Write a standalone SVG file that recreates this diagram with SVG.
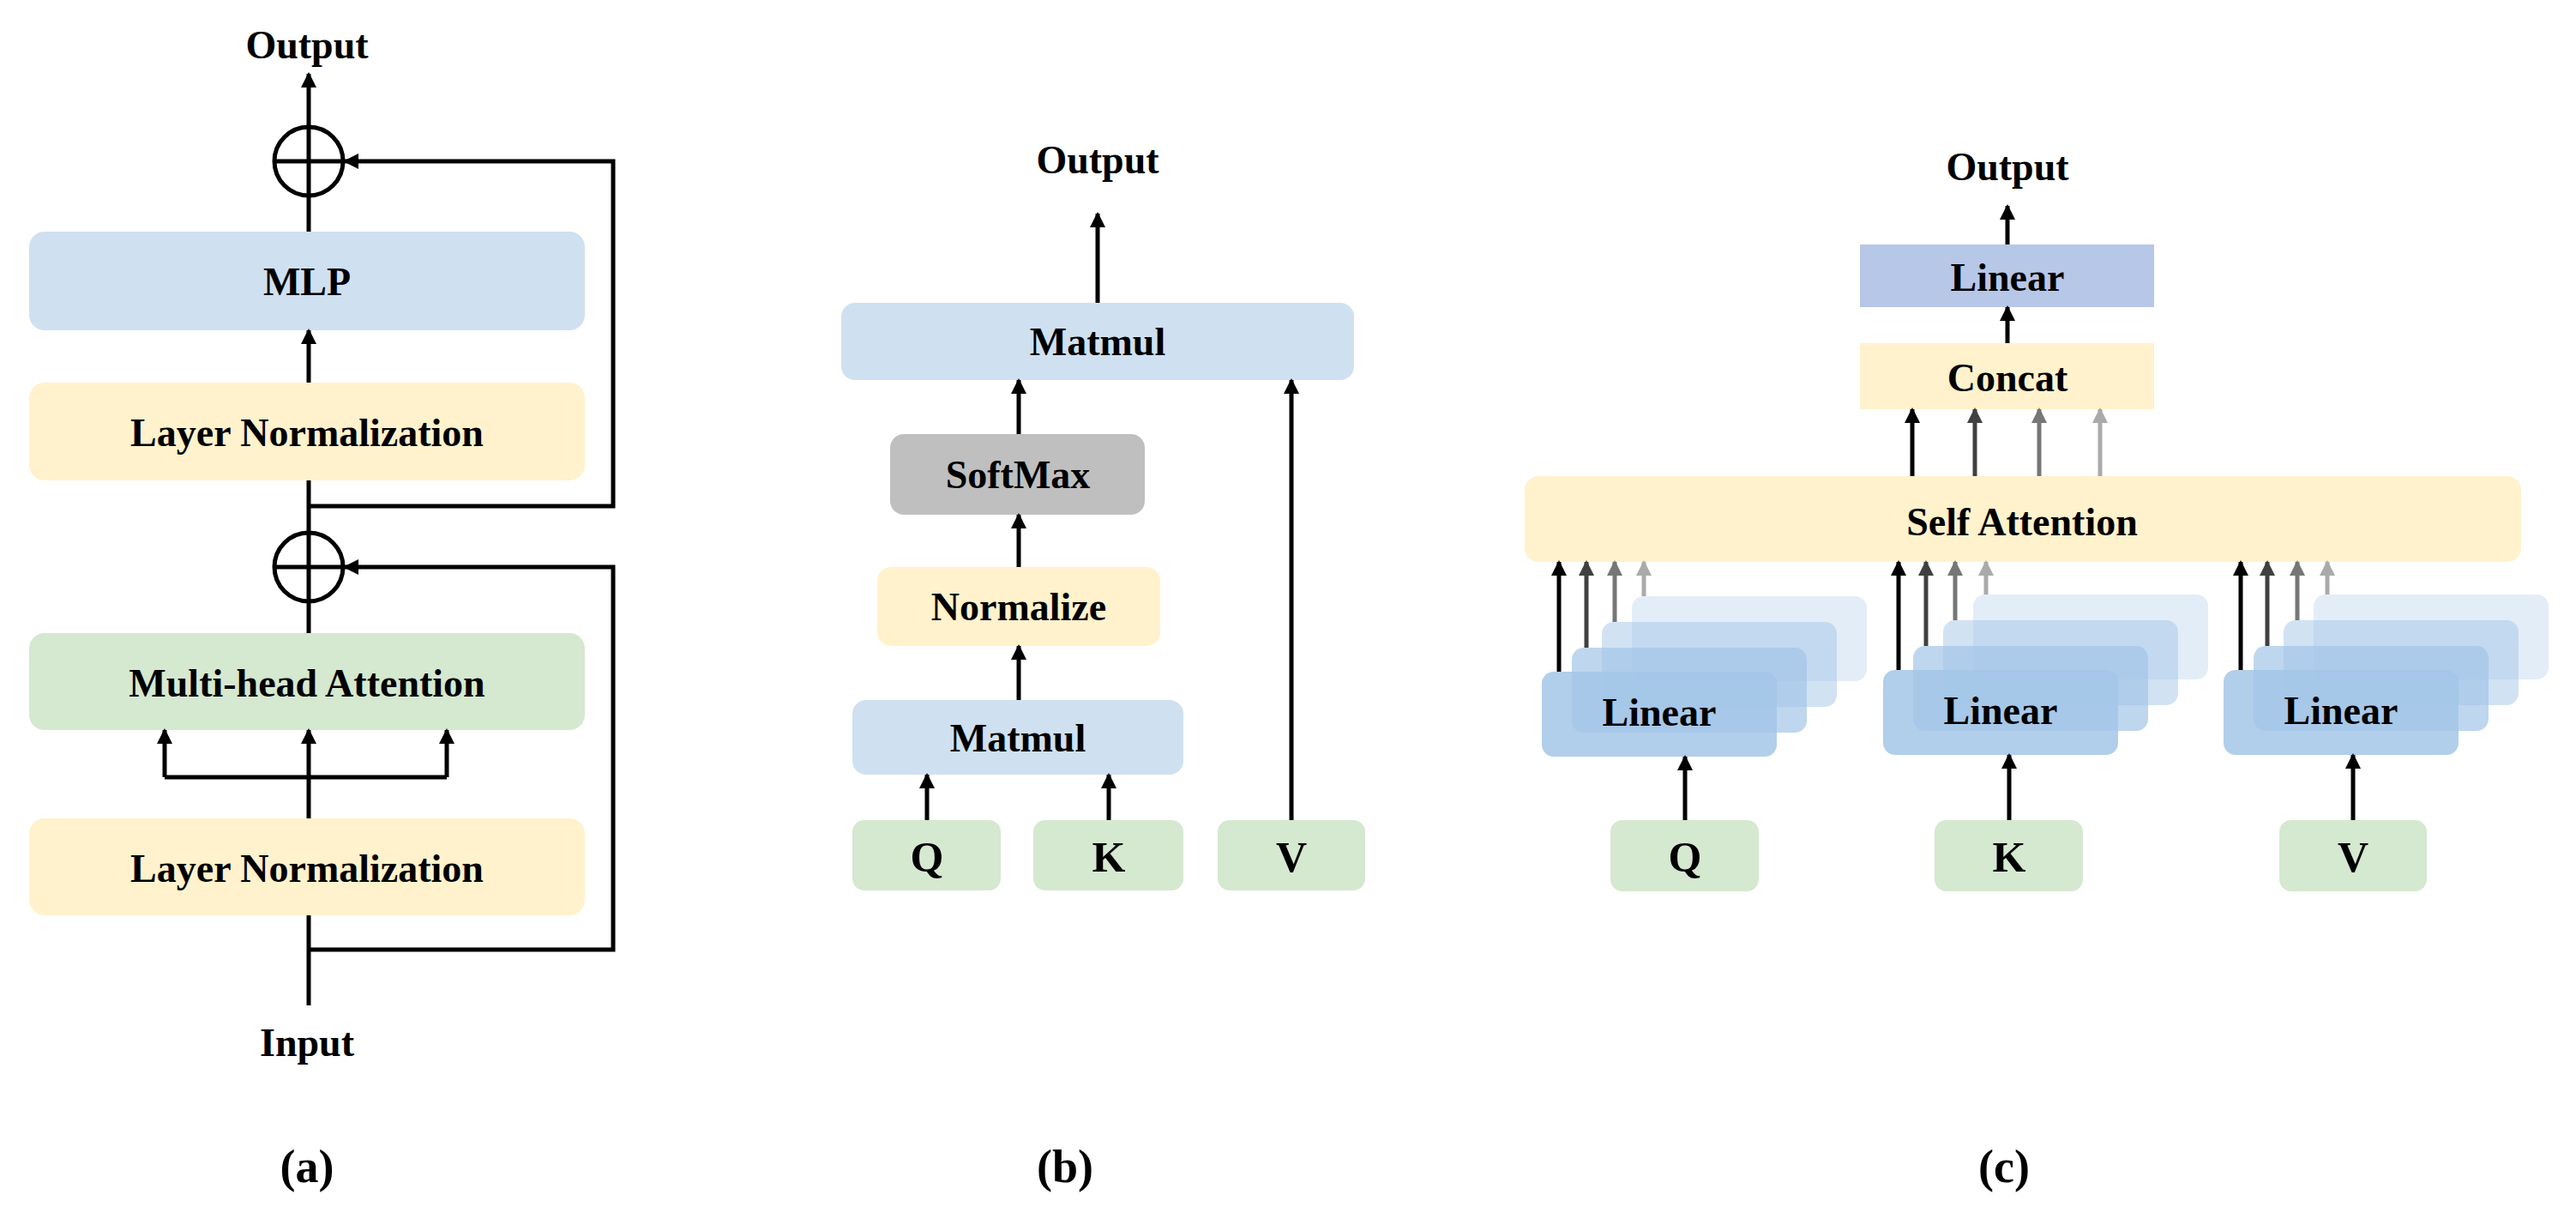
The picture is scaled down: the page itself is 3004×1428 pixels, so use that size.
<svg xmlns="http://www.w3.org/2000/svg" width="3004" height="1428" viewBox="0 0 3004 1428">
<defs>
<style>
text{font-family:"Liberation Serif","Times New Roman",serif;font-weight:bold;fill:#000;text-anchor:middle;dominant-baseline:central}
.t{font-size:46px}
.blue{fill:#cfe0f1}.yel{fill:#fff2cc}.grn{fill:#d5e8d0}.gry{fill:#bfbfbf}.lav{fill:#b7c7e8}
.ln{fill:none;stroke:#000;stroke-width:5}
.c0{stroke:#000}.c1{stroke:#404040}.c2{stroke:#767676}.c3{stroke:#aaaaaa}
.lin{fill:#a3c5e7}
</style>
<marker id="a0" markerWidth="18" markerHeight="20" refX="16" refY="9" orient="auto" markerUnits="userSpaceOnUse"><path d="M0,0 L18,9 L0,18 Z" fill="#000"/></marker>
<marker id="a1" markerWidth="18" markerHeight="20" refX="16" refY="9" orient="auto" markerUnits="userSpaceOnUse"><path d="M0,0 L18,9 L0,18 Z" fill="#404040"/></marker>
<marker id="a2" markerWidth="18" markerHeight="20" refX="16" refY="9" orient="auto" markerUnits="userSpaceOnUse"><path d="M0,0 L18,9 L0,18 Z" fill="#767676"/></marker>
<marker id="a3" markerWidth="18" markerHeight="20" refX="16" refY="9" orient="auto" markerUnits="userSpaceOnUse"><path d="M0,0 L18,9 L0,18 Z" fill="#aaaaaa"/></marker>
</defs>
<rect width="3004" height="1428" fill="#fff"/>

<!-- Panel a -->
<g id="a-output"><text class="t" x="358" y="52">Output</text></g>
<g id="a-add2"><circle cx="360" cy="188" r="40" fill="none" stroke="#000" stroke-width="5"/><line x1="320" y1="188" x2="400" y2="188" stroke="#000" stroke-width="5"/></g>
<g id="a-mlp"><rect class="blue" x="34" y="270" width="648" height="115" rx="18"/><text class="t" x="358" y="328">MLP</text></g>
<g id="a-ln1"><rect class="yel" x="34" y="446" width="648" height="114" rx="18"/><text class="t" x="358" y="504">Layer Normalization</text></g>
<g id="a-add1"><circle cx="360" cy="661" r="40" fill="none" stroke="#000" stroke-width="5"/><line x1="320" y1="661" x2="400" y2="661" stroke="#000" stroke-width="5"/></g>
<g id="a-mha"><rect class="grn" x="34" y="738" width="648" height="113" rx="18"/><text class="t" x="358" y="796">Multi-head Attention</text></g>
<g id="a-ln2"><rect class="yel" x="34" y="954" width="648" height="113" rx="18"/><text class="t" x="358" y="1012">Layer Normalization</text></g>
<g id="a-input"><text class="t" x="358" y="1215">Input</text></g>
<g id="a-label"><text x="358" y="1360" font-size="54">(a)</text></g>

<!-- Panel b -->
<g id="b-output"><text class="t" x="1280" y="186">Output</text></g>
<g id="b-matmul2"><rect class="blue" x="981" y="353" width="598" height="90" rx="16"/><text class="t" x="1280" y="398">Matmul</text></g>
<g id="b-softmax"><rect class="gry" x="1038" y="506" width="297" height="94" rx="16"/><text class="t" x="1187" y="553">SoftMax</text></g>
<g id="b-normalize"><rect class="yel" x="1023" y="661" width="330" height="92" rx="16"/><text class="t" x="1188" y="707">Normalize</text></g>
<g id="b-matmul1"><rect class="blue" x="994" y="816" width="386" height="87" rx="16"/><text class="t" x="1187" y="860">Matmul</text></g>
<g id="b-q"><rect class="grn" x="994" y="956" width="173" height="82" rx="14"/><text x="1081" y="999" font-size="50">Q</text></g>
<g id="b-k"><rect class="grn" x="1205" y="956" width="175" height="82" rx="14"/><text x="1293" y="999" font-size="50">K</text></g>
<g id="b-v"><rect class="grn" x="1420" y="956" width="172" height="82" rx="14"/><text x="1506" y="999" font-size="50">V</text></g>
<g id="b-label"><text x="1242" y="1360" font-size="54">(b)</text></g>

<!-- Panel c -->
<g id="c-output"><text class="t" x="2341" y="194">Output</text></g>
<g id="c-linear"><rect class="lav" x="2169" y="285" width="343" height="73"/><text class="t" x="2341" y="323">Linear</text></g>
<g id="c-concat"><rect class="yel" x="2169" y="400" width="343" height="77"/><text class="t" x="2341" y="440">Concat</text></g>
<g id="c-selfatt"><rect class="yel" x="1778" y="555" width="1162" height="100" rx="16"/><text class="t" x="2358" y="608">Self Attention</text></g>
<g id="c-linQ">
<rect class="lin" opacity="0.3" x="1903" y="695" width="274" height="99" rx="14"/>
<rect class="lin" opacity="0.5" x="1868" y="725" width="274" height="99" rx="14"/>
<rect class="lin" opacity="0.7" x="1833" y="755" width="274" height="99" rx="14"/>
<rect class="lin" opacity="0.85" x="1798" y="783" width="274" height="99" rx="14"/>
<text class="t" x="1935" y="830">Linear</text></g>
<g id="c-linK">
<rect class="lin" opacity="0.3" x="2301" y="693" width="274" height="99" rx="14"/>
<rect class="lin" opacity="0.5" x="2266" y="723" width="274" height="99" rx="14"/>
<rect class="lin" opacity="0.7" x="2231" y="753" width="274" height="99" rx="14"/>
<rect class="lin" opacity="0.85" x="2196" y="781" width="274" height="99" rx="14"/>
<text class="t" x="2333" y="828">Linear</text></g>
<g id="c-linV">
<rect class="lin" opacity="0.3" x="2698" y="693" width="274" height="99" rx="14"/>
<rect class="lin" opacity="0.5" x="2663" y="723" width="274" height="99" rx="14"/>
<rect class="lin" opacity="0.7" x="2628" y="753" width="274" height="99" rx="14"/>
<rect class="lin" opacity="0.85" x="2593" y="781" width="274" height="99" rx="14"/>
<text class="t" x="2730" y="828">Linear</text></g>
<g id="c-q"><rect class="grn" x="1878" y="956" width="173" height="83" rx="14"/><text x="1965" y="999" font-size="50">Q</text></g>
<g id="c-k"><rect class="grn" x="2256" y="956" width="173" height="83" rx="14"/><text x="2343" y="999" font-size="50">K</text></g>
<g id="c-v"><rect class="grn" x="2658" y="956" width="172" height="83" rx="14"/><text x="2744" y="999" font-size="50">V</text></g>
<g id="c-label"><text x="2337" y="1360" font-size="54">(c)</text></g>

<g id="connectors">
<!-- a -->
<path class="ln" d="M360,270 V86" marker-end="url(#a0)"/>
<path class="ln" d="M360,590 H715 V188 H402" marker-end="url(#a0)"/>
<path class="ln" d="M360,446 V385" marker-end="url(#a0)"/>
<path class="ln" d="M360,560 V738"/>
<path class="ln" d="M360,1107 H715 V661 H402" marker-end="url(#a0)"/>
<path class="ln" d="M360,1172 V1067"/>
<path class="ln" d="M360,954 V851" marker-end="url(#a0)"/>
<path class="ln" d="M192,906 H521"/>
<path class="ln" d="M192,906 V851" marker-end="url(#a0)"/>
<path class="ln" d="M521,906 V851" marker-end="url(#a0)"/>
<!-- b -->
<path class="ln" d="M1280,353 V249" marker-end="url(#a0)"/>
<path class="ln" d="M1188,506 V443" marker-end="url(#a0)"/>
<path class="ln" d="M1188,661 V600" marker-end="url(#a0)"/>
<path class="ln" d="M1188,816 V753" marker-end="url(#a0)"/>
<path class="ln" d="M1081,956 V903" marker-end="url(#a0)"/>
<path class="ln" d="M1293,956 V903" marker-end="url(#a0)"/>
<path class="ln" d="M1506,956 V443" marker-end="url(#a0)"/>
<!-- c -->
<path class="ln" d="M2341,285 V240" marker-end="url(#a0)"/>
<path class="ln" d="M2341,400 V358" marker-end="url(#a0)"/>
<path class="ln c0" d="M2230,555 V477" marker-end="url(#a0)"/>
<path class="ln c1" d="M2303,555 V477" marker-end="url(#a1)"/>
<path class="ln c2" d="M2378,555 V477" marker-end="url(#a2)"/>
<path class="ln c3" d="M2449,555 V477" marker-end="url(#a3)"/>
<path class="ln c0" d="M1818,783 V655" marker-end="url(#a0)"/>
<path class="ln c1" d="M1850,755 V655" marker-end="url(#a1)"/>
<path class="ln c2" d="M1883,725 V655" marker-end="url(#a2)"/>
<path class="ln c3" d="M1917,695 V655" marker-end="url(#a3)"/>
<path class="ln c0" d="M2214,781 V655" marker-end="url(#a0)"/>
<path class="ln c1" d="M2246,753 V655" marker-end="url(#a1)"/>
<path class="ln c2" d="M2280,723 V655" marker-end="url(#a2)"/>
<path class="ln c3" d="M2316,693 V655" marker-end="url(#a3)"/>
<path class="ln c0" d="M2613,781 V655" marker-end="url(#a0)"/>
<path class="ln c1" d="M2644,753 V655" marker-end="url(#a1)"/>
<path class="ln c2" d="M2679,723 V655" marker-end="url(#a2)"/>
<path class="ln c3" d="M2714,693 V655" marker-end="url(#a3)"/>
<path class="ln" d="M1965,956 V882" marker-end="url(#a0)"/>
<path class="ln" d="M2343,956 V880" marker-end="url(#a0)"/>
<path class="ln" d="M2744,956 V880" marker-end="url(#a0)"/>
</g>
</svg>
